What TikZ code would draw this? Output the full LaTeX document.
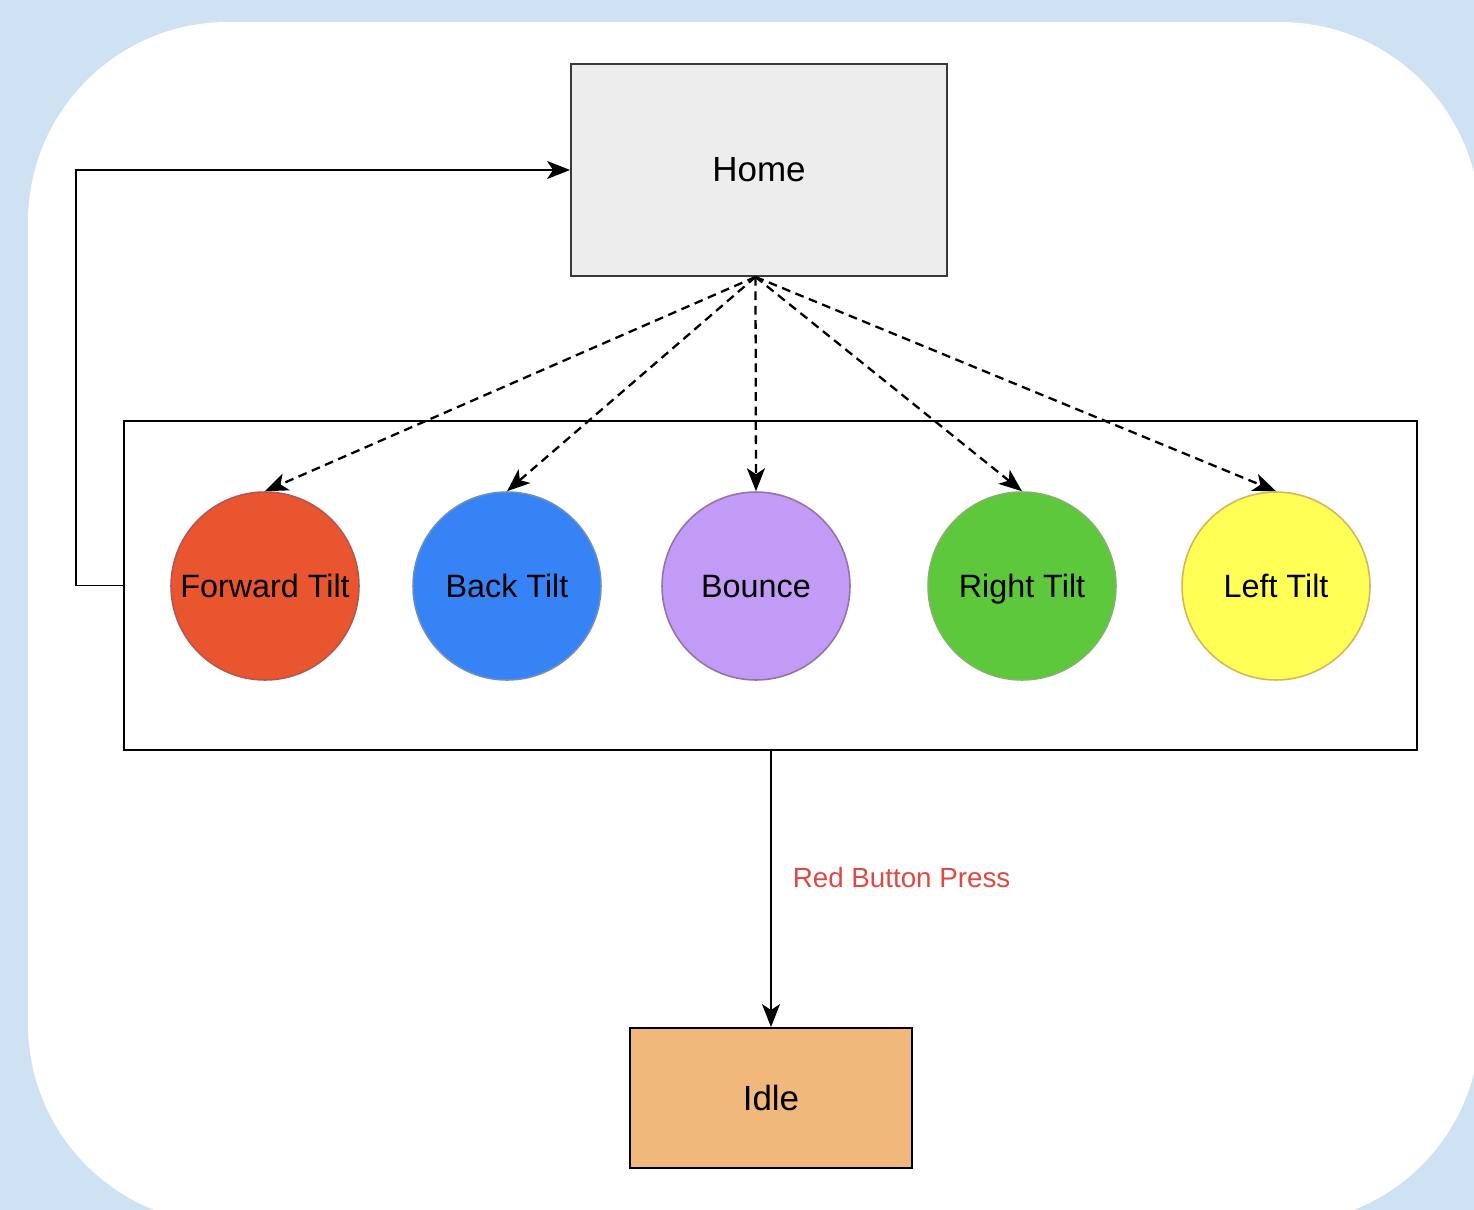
\documentclass[tikz,border=0pt]{standalone}
\usepackage{fontspec}
\setmainfont{Liberation Sans}
\usetikzlibrary{arrows.meta,positioning,calc}
\definecolor{bgblue}{RGB}{207,226,243}
\definecolor{homefill}{RGB}{237,237,237}
\definecolor{homeline}{RGB}{54,57,61}
\definecolor{fwdfill}{RGB}{233,85,47}
\definecolor{fwdline}{RGB}{184,84,80}
\definecolor{backfill}{RGB}{54,131,246}
\definecolor{backline}{RGB}{108,142,191}
\definecolor{bncfill}{RGB}{193,155,245}
\definecolor{bncline}{RGB}{150,115,166}
\definecolor{rgtfill}{RGB}{93,200,60}
\definecolor{rgtline}{RGB}{130,179,102}
\definecolor{lftfill}{RGB}{255,255,85}
\definecolor{lftline}{RGB}{214,182,86}
\definecolor{idlefill}{RGB}{241,184,124}
\definecolor{presscol}{RGB}{226,72,66}
\tikzset{
  statebox/.style={draw, line width=1.1pt, minimum width=#1, font=\fontsize{19.9}{24}\selectfont},
  modebox/.style={draw, line width=1.1pt, minimum width=25.86cm, minimum height=6.58cm},
  tilt/.style={circle, line width=0.9pt, minimum size=3.76cm, inner sep=0pt,
               text height=13.2pt, text depth=0pt,
               font=\fontsize{18.4}{22}\selectfont},
  arr/.style={-{Stealth[length=4.6mm, width=3.6mm, inset=1.2mm]}, line width=1.1pt},
  darr/.style={arr, line width=1.3pt, dash pattern=on 5pt off 3.2pt},
  presslab/.style={text=presscol, font=\fontsize{15.8}{19}\selectfont},
}
\begin{document}
\begin{tikzpicture}[x=0.02cm, y=-0.02cm]
  \useasboundingbox (0,0) rectangle (1474,1210);
  \fill[bgblue] (0,0) rectangle (1474,1210);
  \fill[white, rounded corners=4cm] (28,22) rectangle (1480,1224);

  % states
  \node[statebox=7.52cm, minimum height=4.24cm, fill=homefill, draw=homeline] (home) at (759,170) {Home};
  \node[modebox] (modes) at (770.5,585.5) {};
  \node[statebox=5.64cm, minimum height=2.8cm, fill=idlefill] (idle) at (771,1098) {Idle};

  % tilt modes
  \node[tilt, fill=fwdfill, draw=fwdline] (fwd) at (265,586) {Forward Tilt};
  \node[tilt, fill=backfill, draw=backline] (back) at (507,586) {Back Tilt};
  \node[tilt, fill=bncfill, draw=bncline] (bnc) at (756,586) {Bounce};
  \node[tilt, fill=rgtfill, draw=rgtline] (rgt) at (1022,586) {Right Tilt};
  \node[tilt, fill=lftfill, draw=lftline] (lft) at (1276,586) {Left Tilt};

  % connectors
  \coordinate (fan) at ([xshift=-2]home.south);
  \foreach \m in {fwd,back,bnc,rgt,lft}
    \draw[darr] (fan) -- (\m.north);
  \draw[arr] (modes.west) -- ++(-47,0) |- (home.west);
  \draw[arr] (modes.south -| idle.north) -- (idle.north)
    node[presslab, pos=0.46, right=0.3cm] {Red Button Press};
\end{tikzpicture}
\end{document}
